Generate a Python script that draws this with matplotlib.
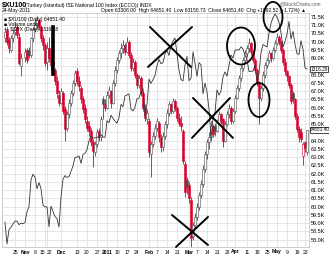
import numpy as np
import pandas as pd
import matplotlib
matplotlib.use("Agg")
import matplotlib.pyplot as plt
from matplotlib.patches import Ellipse

plt.rcParams['font.family'] = ['Liberation Sans', 'DejaVu Sans']

nan = np.nan
# chart days (Kurban Bayrami and May 19 left out; Oct 29 kept as an empty slot)
holidays = ["2010-11-16", "2010-11-17", "2010-11-18", "2010-11-19", "2011-05-19"]
dates = pd.bdate_range("2010-10-18", "2011-05-24").drop(pd.to_datetime(holidays))

# XU100 daily OHLC in thousands, one row per week
opens = [70.2, 70.7, 70.1, 69.5, 70.2,  70.6, 70.9, 70.3, 68.5, nan,
         69.1, 69.5, 69.5, 69.2, 70.2,  70.8, 71.0, 71.3, 70.9, 70.2,  69.8,
         68.8, 69.6, 69.0, 68.6, 68.3,  67.6, 66.8, 66.3, 66.9, 65.9,
         64.8, 65.6, 66.3, 66.9, 67.5,  68.2, 67.6, 67.2, 66.5, 66.0,
         65.2, 64.9, 64.6, 63.9, 63.3,  63.8, 64.6, 64.2, 66.5, 66.2,
         66.0, 66.8, 67.0, 66.3, 67.5,  68.3, 68.9, 69.3, 69.6, 69.8,
         69.4, 70.0, 69.2, 68.4, 68.8,  68.0, 67.4, 67.8, 66.9, 66.0,
         65.3, 65.2, 63.2, 63.8, 64.3,  64.8, 65.1, 64.2, 63.6, 64.3,
         65.0, 65.7, 66.2, 65.8, 66.4,  66.0, 65.4, 65.1, 64.6, 62.6,
         61.6, 61.3, 60.4, 58.2, 58.9,  59.4, 60.0, 60.7, 61.4, 62.3,
         63.2, 63.9, 64.2, 64.9, 64.9,  64.6, 65.1, 65.6, 65.3, 64.0,
         65.0, 65.6, 66.0, 65.2, 65.8,  66.6, 67.2, 67.8, 68.4, 68.9,
         69.3, 69.6, 69.9, 69.4, 68.9,  68.3, 67.5, 66.6, 67.2, 68.0,
         68.6, 68.9, 69.3, 69.0, 69.5,  69.9, 70.3, 70.0, 69.5, 68.8,
         68.2, 67.9, 67.4, 66.9, 66.5,  65.5, 64.7, 64.5, 63.1,  63.9, 63.308]
highs = [70.9, 70.9, 70.3, 70.4, 70.8,  71.2, 71.0, 70.5, 69.3, nan,
         69.6, 69.6, 69.7, 70.3, 70.9,  71.3, 71.55, 71.4, 71.0, 70.4,  69.9,
         70.0, 70.3, 69.5, 69.1, 68.4,  67.9, 67.1, 67.2, 67.0, 66.1,
         65.8, 66.5, 67.1, 67.7, 68.3,  68.4, 67.9, 67.3, 66.7, 66.2,
         65.5, 65.2, 64.8, 64.1, 64.0,  64.7, 64.8, 65.5, 66.7, 66.5,
         67.0, 67.3, 67.1, 67.7, 68.5,  69.1, 69.5, 69.9, 70.1, 69.9,
         70.3, 70.1, 69.4, 69.0, 68.9,  68.1, 68.0, 67.9, 67.0, 66.2,
         65.9, 65.4, 64.0, 64.5, 65.0,  65.4, 65.2, 64.4, 64.5, 65.2,
         65.9, 66.4, 66.3, 66.6, 66.5,  66.1, 65.7, 65.5, 64.7, 62.8,
         61.8, 61.5, 60.6, 59.1, 59.6,  60.2, 60.9, 61.6, 62.5, 63.4,
         64.1, 64.5, 65.2, 65.0, 65.1,  65.3, 65.8, 65.7, 65.4, 65.2,
         65.8, 66.2, 66.1, 66.0, 66.8,  67.4, 68.0, 68.6, 69.1, 69.5,
         69.8, 70.2, 70.0, 69.5, 69.0,  68.4, 67.6, 67.4, 68.2, 68.8,
         69.1, 69.5, 69.4, 69.7, 70.1,  70.5, 70.4, 70.1, 69.6, 69.0,
         68.3, 68.0, 67.5, 67.0, 66.6,  65.7, 64.9, 64.8, 63.9,  64.0, 64.651]
lows = [70.0, 69.8, 69.3, 69.4, 70.0,  70.4, 70.2, 68.6, 67.9, nan,
        68.8, 68.7, 69.0, 69.1, 70.0,  70.6, 70.8, 70.7, 70.0, 69.5,  68.5,
        68.3, 68.8, 68.2, 68.0, 67.4,  66.6, 66.1, 66.2, 65.6, 64.0,
        64.6, 65.4, 66.1, 66.7, 67.3,  67.4, 67.0, 66.3, 65.7, 65.1,
        64.6, 64.3, 63.7, 62.4, 63.1,  63.6, 64.0, 64.0, 65.3, 65.8,
        65.9, 66.6, 66.0, 66.2, 67.3,  68.1, 68.7, 69.0, 69.3, 69.2,
        69.3, 69.0, 68.2, 68.2, 67.8,  67.2, 67.2, 66.7, 65.8, 65.2,
        65.0, 63.0, 61.8, 63.6, 64.1,  64.6, 63.9, 63.3, 63.4, 64.1,
        64.8, 65.5, 65.6, 65.7, 65.8,  65.2, 64.9, 64.6, 62.6, 60.6,
        60.8, 60.2, 57.4, 58.0, 58.7,  59.2, 59.8, 60.5, 61.2, 62.1,
        62.9, 63.5, 64.0, 64.2, 64.3,  64.5, 65.0, 65.0, 63.6, 63.9,
        64.9, 65.4, 65.0, 65.1, 65.7,  66.5, 67.0, 67.6, 68.2, 68.7,
        69.1, 69.4, 69.2, 68.7, 68.1,  67.3, 65.0, 66.4, 67.0, 67.8,
        68.4, 68.7, 68.8, 68.9, 69.4,  69.8, 69.8, 69.3, 68.6, 68.0,
        67.6, 67.2, 66.2, 66.3, 65.3,  64.5, 63.9, 63.9, 62.5,  63.3, 63.151]
closes = [70.6, 70.0, 69.6, 70.2, 70.5,  70.9, 70.4, 68.7, 69.0, nan,
          69.4, 68.9, 69.2, 70.2, 70.8,  71.0, 71.3, 70.9, 70.2, 69.8,  68.7,
          69.6, 69.0, 68.6, 68.8, 67.6,  66.9, 66.3, 67.0, 65.8, 64.7,
          65.6, 66.3, 66.9, 67.5, 68.1,  67.6, 67.3, 66.5, 65.9, 65.3,
          64.8, 64.6, 63.9, 63.4, 63.8,  64.5, 64.2, 65.3, 66.2, 66.0,
          66.8, 67.1, 66.3, 67.5, 68.3,  68.9, 69.3, 69.6, 69.8, 69.4,
          70.0, 69.2, 68.4, 68.8, 68.0,  67.4, 67.8, 66.9, 66.0, 65.4,
          65.7, 63.3, 63.8, 64.3, 64.8,  65.2, 64.2, 63.6, 64.3, 65.0,
          65.7, 66.2, 65.8, 66.4, 66.0,  65.4, 65.1, 64.9, 62.8, 60.9,
          61.2, 60.5, 58.1, 58.9, 59.4,  60.0, 60.7, 61.4, 62.3, 63.2,
          63.9, 64.2, 64.9, 64.4, 64.6,  65.1, 65.6, 65.2, 64.0, 65.0,
          65.6, 66.0, 65.2, 65.8, 66.6,  67.2, 67.8, 68.4, 68.9, 69.3,
          69.6, 69.9, 69.4, 68.9, 68.3,  67.5, 66.6, 67.2, 68.0, 68.6,
          68.9, 69.3, 69.0, 69.5, 69.9,  70.3, 70.0, 69.5, 68.8, 68.2,
          67.9, 67.4, 66.4, 66.5, 65.5,  64.7, 64.2, 64.1, 63.8,  63.559, 64.651]

# $SPX daily close on the same days (nan = US market closed)
spx = [1184.7, 1165.9, 1178.2, 1180.3, 1183.1,  1185.6, 1185.6, 1182.5, 1183.8, 1183.3,
       1184.4, 1193.6, 1198.0, 1221.1, 1225.9,  1223.3, 1213.4, 1218.7, 1213.5, 1199.2,  1197.8,
       1197.8, 1180.7, 1198.4, nan, 1189.4,  1187.8, 1180.6, 1206.1, 1221.5, 1224.7,
       1223.1, 1223.8, 1228.3, 1233.0, 1240.4,  1240.5, 1241.6, 1235.2, 1242.9, 1243.9,
       1247.1, 1254.6, 1258.8, 1256.8, nan,  1257.5, 1258.5, 1259.8, 1257.9, 1257.6,
       1271.9, 1270.2, 1276.6, 1273.9, 1271.5,  1269.8, 1274.5, 1286.0, 1283.8, 1293.2,
       nan, 1295.0, 1281.9, 1280.3, 1283.4,  1290.8, 1291.2, 1296.6, 1299.5, 1276.3,
       1286.1, 1307.6, 1304.0, 1307.1, 1310.9,  1319.1, 1324.6, 1320.9, 1321.9, 1329.2,
       1332.3, 1328.0, 1336.3, 1340.4, 1343.0,  nan, 1315.4, 1307.4, 1306.1, 1319.9,
       1327.2, 1306.3, 1308.4, 1331.0, 1321.2,  1310.1, 1321.8, 1320.0, 1295.1, 1304.3,
       1296.4, 1281.9, 1256.9, 1273.7, 1279.2,  1298.4, 1293.8, 1297.5, 1309.7, 1313.8,
       1310.2, 1319.4, 1328.3, 1325.8, 1332.4,  1332.9, 1332.6, 1335.5, 1333.5, 1328.2,
       1324.5, 1314.2, 1314.4, 1314.5, 1319.7,  1305.1, 1312.6, 1330.4, 1337.4, nan,
       1335.3, 1347.2, 1355.7, 1360.5, 1363.6,  1361.2, 1356.6, 1347.3, 1335.1, 1340.2,
       1346.3, 1357.2, 1342.1, 1348.7, 1337.8,  1329.5, 1329.0, 1340.7, 1333.3,  1317.4, 1316.28]

tick_dates = ["2010-10-25", "2010-11-01", "2010-11-08", "2010-11-15", "2010-11-22",
              "2010-12-01", "2010-12-13", "2010-12-20", "2010-12-27", "2011-01-03",
              "2011-01-10", "2011-01-17", "2011-01-24", "2011-02-01", "2011-02-07",
              "2011-02-14", "2011-02-21", "2011-03-01", "2011-03-07", "2011-03-14",
              "2011-03-21", "2011-03-28", "2011-04-01", "2011-04-11", "2011-04-18",
              "2011-04-25", "2011-05-02", "2011-05-09", "2011-05-16", "2011-05-23"]
tick_labels = ["25", "Nov", "8", "15", "22", "Dec", "13", "20", "27", "2011",
               "10", "17", "24", "Feb", "7", "14", "21", "Mar", "7", "14",
               "21", "28", "Apr", "11", "18", "25", "May", "9", "16", "23"]
bold_labels = {"Nov", "Dec", "2011", "Feb", "Mar", "Apr", "May"}

o = np.array(opens); h = np.array(highs); l = np.array(lows); c = np.array(closes)
s = np.array(spx)
x = np.arange(len(dates))

RED = "#d8002c"
BLK = "#4a4a4a"
YLO, YHI = 57.56, 71.74
SLO, SHI = 1163.3, 1364.5

fig = plt.figure(figsize=(3.29, 2.58), dpi=100)
ax = fig.add_axes([2/329, 11/258, 307/329, 234/258])
ax.set_xlim(-1.5, 152.0)
ax.set_ylim(YLO, YHI)

# SPX overlay on its own scale
ax2 = ax.twinx()
ax2.set_ylim(SLO, SHI)
ok = ~np.isnan(s)
ax2.plot(x[ok], s[ok], color="#333333", lw=0.6)
ax2.set_yticks([])
for sp in ax2.spines.values():
    sp.set_visible(False)

# grid and ticks
yt = np.arange(58.0, 71.51, 0.5)
ax.set_yticks(yt)
tick_idx = [dates.get_loc(pd.Timestamp(d)) for d in tick_dates]
ax.set_xticks(tick_idx)
ax.grid(True, color="#dcdcdc", lw=0.5)
ax.set_axisbelow(True)
ax.yaxis.tick_right()
ax.tick_params(axis="y", length=0, labelsize=4, pad=1.5)
ax.tick_params(axis="x", length=0, labelsize=3.6, pad=1.8)
# 64.5K and 68.5K sit under the value boxes
ax.set_yticklabels(["" if v in (64.5, 68.5) else f"{v:.1f}K" for v in yt])
ax.set_xticklabels(tick_labels)
xl = ax.get_xticklabels()
for t in xl:
    if t.get_text() in bold_labels:
        t.set_fontweight("bold")
xl[3].set_horizontalalignment("right")
xl[4].set_horizontalalignment("left")
for sp in ax.spines.values():
    sp.set_color("#bbbbbb")
    sp.set_linewidth(0.5)

# candles
prev = pd.Series(np.concatenate([[nan], c[:-1]])).ffill().values
for i in range(len(x)):
    if np.isnan(c[i]):
        continue
    col = RED if (not np.isnan(prev[i]) and c[i] < prev[i]) else BLK
    ax.vlines(x[i], l[i], h[i], color=col, lw=0.6, zorder=2)
    lo, hi = min(o[i], c[i]), max(o[i], c[i])
    hi = max(hi, lo + 0.04)
    filled = c[i] < o[i]
    ax.bar(x[i], hi - lo, bottom=lo, width=0.8,
           facecolor=col if filled else "white", edgecolor=col, lw=0.4, zorder=3)

# hand drawn annotations (given in XU100 units, drawn on the top axes)
def to_spx(v):
    return SLO + (v - YLO) / (YHI - YLO) * (SHI - SLO)

ann = dict(color="black", lw=1.4, solid_capstyle="round", clip_on=False, zorder=6)
ax2.plot([24.0, 24.0], [to_spx(70.92), to_spx(68.04)], color="black", lw=2.6, zorder=6)
for x0, y0, x1, y1 in [(72.5, 70.89, 93.0, 68.47), (93.5, 70.89, 71.5, 68.47),
                       (94.0, 66.59, 114.0, 64.17), (112.5, 66.59, 93.5, 64.17),
                       (83.5, 59.50, 101.5, 57.68), (101.5, 59.38, 85.5, 57.56)]:
    ax2.plot([x0, x1], [to_spx(y0), to_spx(y1)], **ann)
k = (SHI - SLO) / (YHI - YLO)
for cx, cy, w, hh in [(118.0, 69.74, 14.0, 2.24), (127.0, 66.47, 10.5, 2.06),
                      (134.0, 71.50, 9.5, 1.82)]:
    ax2.add_patch(Ellipse((cx, to_spx(cy)), w, hh * k, fill=False,
                          ec="black", lw=1.3, clip_on=False, zorder=6))

# legend inside plot
for yy, txt in [(0.985, "\u25a0 $XU100 (Daily) 64651.40"),
                (0.962, "\u25a0 Volume undef"),
                (0.939, "\u2014 $SPX (Daily) 1316.28")]:
    ax2.text(0.005, yy, txt, transform=ax.transAxes, fontsize=3.6, va="top",
             color="black", zorder=8)

# value boxes on the right
box = dict(boxstyle="square,pad=0.12", fc="white", ec="black", lw=0.5)
ax2.text(1.004, (64.651 - YLO) / (YHI - YLO), "64651.40", transform=ax.transAxes,
         fontsize=3.4, va="center", ha="left", bbox=box, zorder=9, clip_on=False)
ax2.text(1.004, (1316.28 - SLO) / (SHI - SLO), "1316.28", transform=ax2.transAxes,
         fontsize=3.4, va="center", ha="left", bbox=box, zorder=9, clip_on=False)

# header
fig.text(2/329, 1 - 5/258, "$XU100", fontsize=5, fontweight="bold", va="center")
fig.text(25/329, 1 - 5/258, "(Turkey (Istanbul) ISE National 100 Index (ECCO)) INDX",
         fontsize=3.6, va="center")
fig.text(300/329, 1 - 4/258, "@StockCharts.com", fontsize=3.4, va="center",
         ha="center", color="#555555")
fig.text(2/329, 1 - 10.5/258, "24-May-2011", fontsize=3.6, va="center")
fig.text(306/329, 1 - 10.5/258,
         "Open 63308.00  High 64651.40  Low 63150.73  Close 64651.40  Chg +1092.52 (+1.72%) \u25b2",
         fontsize=3.6, va="center", ha="right")

fig.savefig("out.png", dpi=100)
